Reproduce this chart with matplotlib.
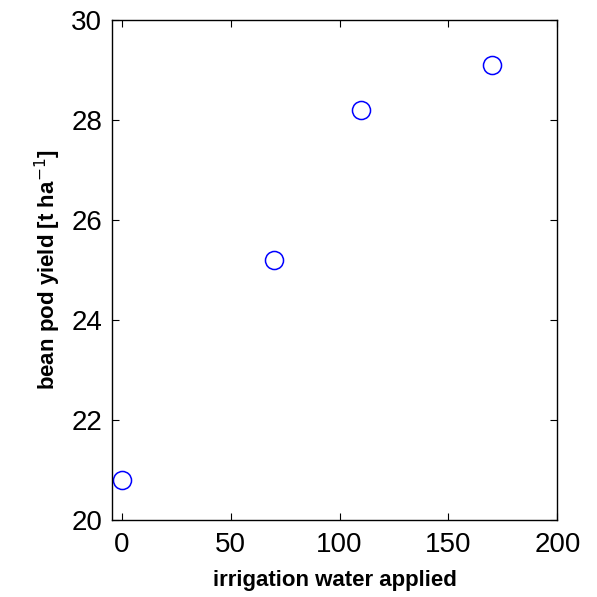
import matplotlib
matplotlib.use('Agg')
import matplotlib.pyplot as plt

plt.rcParams['font.family'] = ['Liberation Sans', 'DejaVu Sans']

# irrigation water vs yield
water = [0, 70, 110, 170]
yield_t = [20.8, 25.2, 28.2, 29.1]

fig = plt.figure(figsize=(5.97, 5.97), dpi=100)
ax = fig.add_axes([0.1876, 0.129, 0.746, 0.8375])
ax.plot(water, yield_t, 'o', markerfacecolor='none', markeredgecolor='blue',
        markersize=13, markeredgewidth=1.1)
ax.set_xlim(-4.5, 200)
ax.set_ylim(20, 30)
ax.set_xticks([0, 50, 100, 150, 200])
ax.set_yticks([20, 22, 24, 26, 28, 30])
ax.tick_params(direction='in', length=5, labelsize=20, top=True, right=True)
ax.tick_params(axis='x', pad=9)
ax.tick_params(axis='y', pad=7)
for s in ax.spines.values():
    s.set_linewidth(1.0)
ax.set_xlabel('irrigation water applied', fontsize=16, fontweight='bold', labelpad=8)
ax.set_ylabel(r'bean pod yield [t ha$^{-1}$]', fontsize=16, fontweight='bold', labelpad=6)
plt.savefig('out.png', dpi=100)
